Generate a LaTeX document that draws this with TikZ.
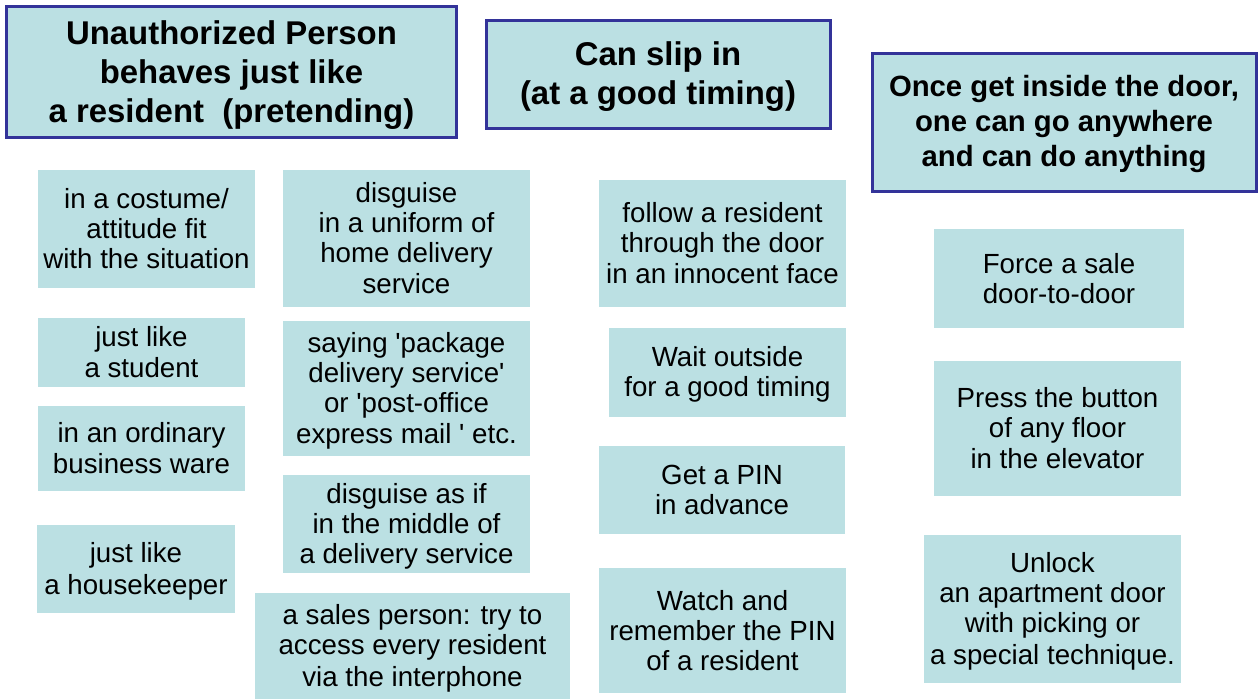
\documentclass[tikz,border=0pt]{standalone}
\usepackage{fontspec}
\setmainfont{Liberation Sans}
\definecolor{boxfill}{RGB}{187,224,227}
\definecolor{boxline}{RGB}{51,51,153}
\newcommand\q{\textquotesingle}
\newcommand\setstrut[2]{\setbox\strutbox\hbox{\vrule height#1 depth#2 width0pt}}
\tikzset{
  item/.style={fill=boxfill, inner sep=0pt, align=center,
    font=\fontsize{27.7}{30}\selectfont\setstrut{24.5pt}{5.5pt}},
  head/.style={fill=boxfill, draw=boxline, line width=3pt, inner sep=0pt, align=center,
    font=\fontsize{32.9}{39}\selectfont\bfseries\setstrut{30.5pt}{8.5pt}},
  headsmall/.style={fill=boxfill, draw=boxline, line width=3pt, inner sep=0pt, align=center,
    font=\fontsize{29.3}{35}\selectfont\bfseries\setstrut{27.2pt}{7.8pt}},
}
\begin{document}
\begin{tikzpicture}[x=1pt,y=-1pt]
\path[use as bounding box] (0,0) rectangle (1260,699);
% headers
\node[head, minimum width=450, minimum height=131] (h1) at (231.5,72) {\strut Unauthorized Person\\behaves just like\\a resident~~(pretending)\strut};
\node[head, minimum width=344, minimum height=108] (h2) at (658,74) {\strut Can slip in\\(at a good timing)\strut};
\node[headsmall, minimum width=384, minimum height=138] (h3) at (1064,122) {\strut Once get inside the door,\\one can go anywhere\\and can do anything\strut};
% column A
\node[item, minimum width=217, minimum height=118] (a1) at (146.5,229) {\strut in a costume/\\attitude fit\\with the situation\strut};
\node[item, minimum width=207, minimum height=69] (a2) at (141.5,352.5) {\strut just like\\a student\strut};
\node[item, minimum width=207, minimum height=85] (a3) at (141.5,448.5) {\strut in an ordinary\\business ware\strut};
\node[item, minimum width=198, minimum height=88] (a4) at (136,569) {\strut just like\\a housekeeper\strut};
% column B
\node[item, minimum width=247, minimum height=137] (b1) at (406.5,238.5) {\strut disguise\\in a uniform of\\home delivery\\service\strut};
\node[item, minimum width=247, minimum height=135] (b2) at (406.5,388.5) {\strut saying \q package\\delivery service\q\\or \q post-office\\express mail \q\ etc.\strut};
\node[item, minimum width=247, minimum height=98] (b3) at (406.5,524) {\strut disguise as if\\in the middle of\\a delivery service\strut};
\node[item, minimum width=315, minimum height=106] (b4) at (412.5,646) {\strut a sales person: try to\\access every resident\\via the interphone\strut};
% column C
\node[item, minimum width=247, minimum height=127] (c1) at (722.5,243.5) {\strut follow a resident\\through the door\\in an innocent face\strut};
\node[item, minimum width=237, minimum height=89] (c2) at (727.5,372.5) {\strut Wait outside\\for a good timing\strut};
\node[item, minimum width=246, minimum height=88] (c3) at (722,490) {\strut Get a PIN\\in advance\strut};
\node[item, minimum width=247, minimum height=125] (c4) at (722.5,630.5) {\strut Watch and\\remember the PIN\\of a resident\strut};
% column D
\node[item, minimum width=250, minimum height=99] (d1) at (1059,278.5) {\strut Force a sale\\door-to-door\strut};
\node[item, minimum width=247, minimum height=135] (d2) at (1057.5,428.5) {\strut Press the button\\of any floor\\in the elevator\strut};
\node[item, minimum width=257, minimum height=148] (d3) at (1052.5,609) {\strut Unlock\\an apartment door\\with picking or\\a special technique.\strut};
\end{tikzpicture}
\end{document}
